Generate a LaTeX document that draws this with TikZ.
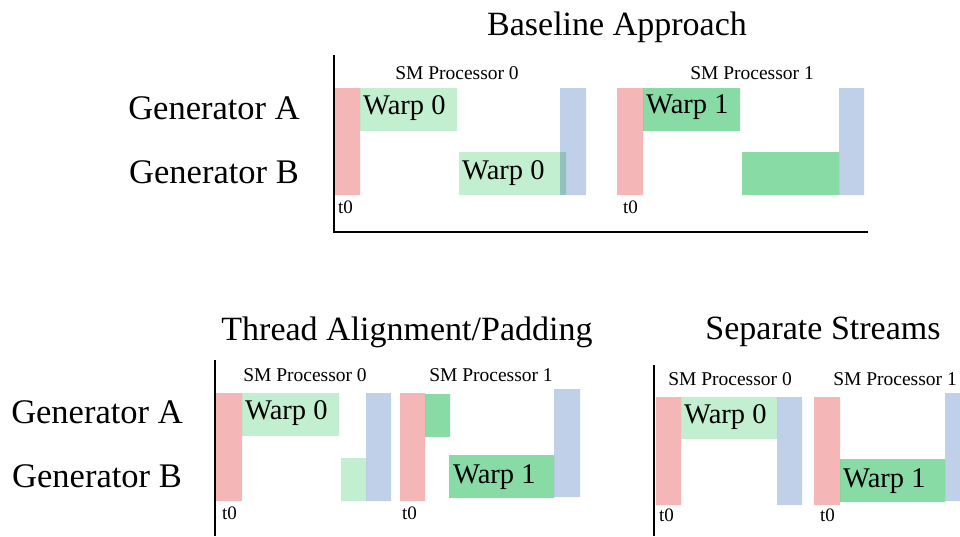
\documentclass[tikz,border=0pt]{standalone}
\usepackage{fontspec}
\setmainfont{Liberation Serif}
\usetikzlibrary{calc}

\definecolor{startred}{HTML}{F4B6B6}
\definecolor{warplight}{HTML}{C2EFCF}
\definecolor{warpdark}{HTML}{88DBA4}
\definecolor{syncblue}{HTML}{C0D0E8}

\tikzset{
	title/.style={font=\fontsize{34}{40}\selectfont, inner sep=0pt},
	gen/.style={font=\fontsize{34.5}{40}\selectfont, inner sep=0pt},
	warp/.style={font=\fontsize{28.5}{32}\selectfont, anchor=west, inner sep=3pt},
	smlabel/.style={font=\fontsize{19.5}{22}\selectfont, inner sep=0pt},
	tick/.style={font=\fontsize{19}{22}\selectfont, anchor=west, inner sep=2pt},
	axis/.style={line width=2pt}
}

\begin{document}
\begin{tikzpicture}[x=1pt,y=-1pt]
	\useasboundingbox (0,0) rectangle (960,536);

	% titles of the three panels
	\node[title] (base) at (617,27) {Baseline Approach};
	\node[title] (pad) at (407,332) {Thread Alignment/Padding};
	\node[title] (sep) at (823,332) {Separate Streams};

	% generator labels
	\node[gen] (genA) at (214,108) {Generator A};
	\node[gen] (genB) at (214,172) {Generator B};
	\node[gen] (padgenA) at (97,412) {Generator A};
	\node[gen] (padgenB) at (97,476) {Generator B};

	% time axes
	\coordinate (O) at (334,232);
	\coordinate (Otop) at (334,55);
	\coordinate (Oend) at (868,232);
	\draw[axis] (Otop) -- (O) -- (Oend);
	\coordinate (P) at (215,360);
	\coordinate (Pend) at (215,536);
	\draw[axis] (P) -- (Pend);
	\coordinate (S) at (654,365);
	\coordinate (Send) at (654,536);
	\draw[axis] (S) -- (Send);

	\begin{scope}[blend group=multiply]
		% baseline, processor 0
		\fill[startred] (335,88) rectangle (360,195);
		\fill[warplight] (360,88) rectangle (457,131);
		\fill[syncblue] (560,88) rectangle (586,195);
		\fill[warplight] (459,152) rectangle (566,195);
		% baseline, processor 1
		\fill[startred] (617,88) rectangle (643,195);
		\fill[warpdark] (643,88) rectangle (740,131);
		\fill[warpdark] (742,152) rectangle (839,195);
		\fill[syncblue] (839,88) rectangle (864,195);

		% padding, processor 0
		\fill[startred] (216,393) rectangle (242,501);
		\fill[warplight] (242,393) rectangle (339,436);
		\fill[warplight] (341,458) rectangle (366,501);
		\fill[syncblue] (366,393) rectangle (391,501);
		% padding, processor 1
		\fill[startred] (400,393) rectangle (425,501);
		\fill[warpdark] (425,394) rectangle (450,437);
		\fill[warpdark] (449,455) rectangle (554,498);
		\fill[syncblue] (554,389) rectangle (580,497);

		% separate streams, processor 0
		\fill[startred] (656,397) rectangle (681,505);
		\fill[warplight] (681,397) rectangle (777,439);
		\fill[syncblue] (777,397) rectangle (802,505);
		% separate streams, processor 1
		\fill[startred] (814,397) rectangle (840,505);
		\fill[warpdark] (840,459) rectangle (945,502);
		\fill[syncblue] (945,393) rectangle (960,501);
	\end{scope}

	% warp labels
	\node[warp] (bw0a) at (360,108) {Warp 0};
	\node[warp] (bw0b) at (459,173) {Warp 0};
	\node[warp] (bw1a) at (643,107) {Warp 1};
	\node[warp] (pw0) at (242,413) {Warp 0};
	\node[warp] (pw1) at (450,477) {Warp 1};
	\node[warp] (sw0) at (681,417) {Warp 0};
	\node[warp] (sw1) at (840,481) {Warp 1};

	% processor labels
	\node[smlabel] (bsm0) at (457,73) {SM Processor 0};
	\node[smlabel] (bsm1) at (752,73) {SM Processor 1};
	\node[smlabel] (psm0) at (305,375) {SM Processor 0};
	\node[smlabel] (psm1) at (491,375) {SM Processor 1};
	\node[smlabel] (ssm0) at (730,379) {SM Processor 0};
	\node[smlabel] (ssm1) at (895,379) {SM Processor 1};

	% start times
	\node[tick] (bt0) at (336,207) {t0};
	\node[tick] (bt1) at (621,207) {t0};
	\node[tick] (pt0) at (220,513) {t0};
	\node[tick] (pt1) at (400,513) {t0};
	\node[tick] (st0) at (657,515) {t0};
	\node[tick] (st1) at (818,515) {t0};

\end{tikzpicture}
\end{document}
